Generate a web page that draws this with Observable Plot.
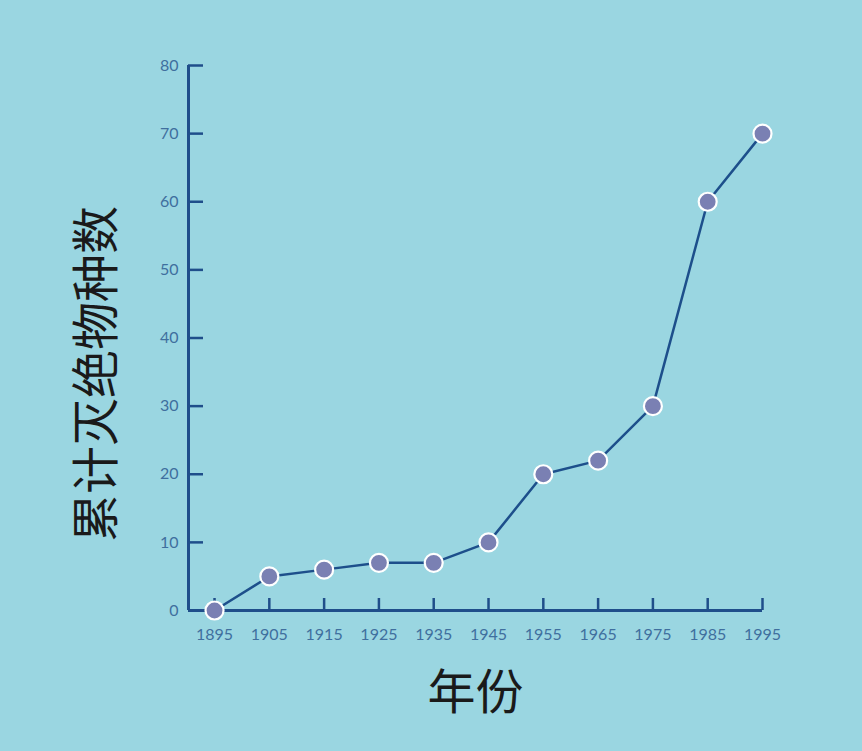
<!DOCTYPE html>
<html>
<head>
<meta charset="utf-8">
<script src="https://cdn.jsdelivr.net/npm/d3@7"></script>
<script src="https://cdn.jsdelivr.net/npm/@observablehq/plot@0.6"></script>
<style>
  html, body { margin: 0; padding: 0; background: #9ad6e1; }
  #chart svg { display: block; }
</style>
</head>
<body>
<div id="chart"></div>
<script>
const years = [1895, 1905, 1915, 1925, 1935, 1945, 1955, 1965, 1975, 1985, 1995];
const extinct = [0, 5, 6, 7, 7, 10, 20, 22, 30, 60, 70];
const xTicks = years;
const yTicks = [0, 10, 20, 30, 40, 50, 60, 70, 80];
const xDomain = [1890.25, 1995];
const yDomain = [0, 80];
const xTitle = "年份";
const yTitle = "累计灭绝物种数";

const data = years.map((y, i) => ({year: y, value: extinct[i]}));

const axisColor = "#1f4e8a";
const labelColor = "#3f6f9e";
const tickFont = "Lato, 'Open Sans', sans-serif";
const cjkFont = "'Noto Sans CJK SC', sans-serif";

const chart = Plot.plot({
  width: 862,
  height: 751,
  marginLeft: 188,
  marginRight: 100,
  marginTop: 65,
  marginBottom: 141,
  style: {background: "#9ad6e1", overflow: "visible"},
  x: {domain: xDomain},
  y: {domain: yDomain},
  marks: [
    Plot.ruleY([0], {stroke: axisColor, strokeWidth: 3}),
    Plot.ruleX([xDomain[0]], {stroke: axisColor, strokeWidth: 3}),
    Plot.axisX(xTicks, {tickSize: -12, tickPadding: 30, tickFormat: d => String(d), stroke: axisColor, strokeWidth: 2.5, fill: labelColor, fontSize: 16, fontFamily: tickFont, label: null}),
    Plot.axisY(yTicks, {tickSize: -15, tickPadding: 25, stroke: axisColor, strokeWidth: 2.5, fill: labelColor, fontSize: 16, fontFamily: tickFont, label: null}),
    Plot.line(data, {x: "year", y: "value", stroke: "#1d4f8b", strokeWidth: 2.5}),
    Plot.dot(data, {x: "year", y: "value", r: 9, fill: "#7a80b3", fillOpacity: 1, stroke: "white", strokeWidth: 2.2}),
    Plot.text([yTitle], {frameAnchor: "left", textAnchor: "middle", lineAnchor: "middle", rotate: -90, dx: -91, dy: 36, fontSize: 48, fontFamily: cjkFont, fill: "#1a1a1a"}),
    Plot.text([xTitle], {frameAnchor: "bottom", textAnchor: "middle", lineAnchor: "middle", dy: 83, fontSize: 48, fontFamily: cjkFont, fill: "#1a1a1a"})
  ]
});
document.getElementById("chart").appendChild(chart);
</script>
</body>
</html>
